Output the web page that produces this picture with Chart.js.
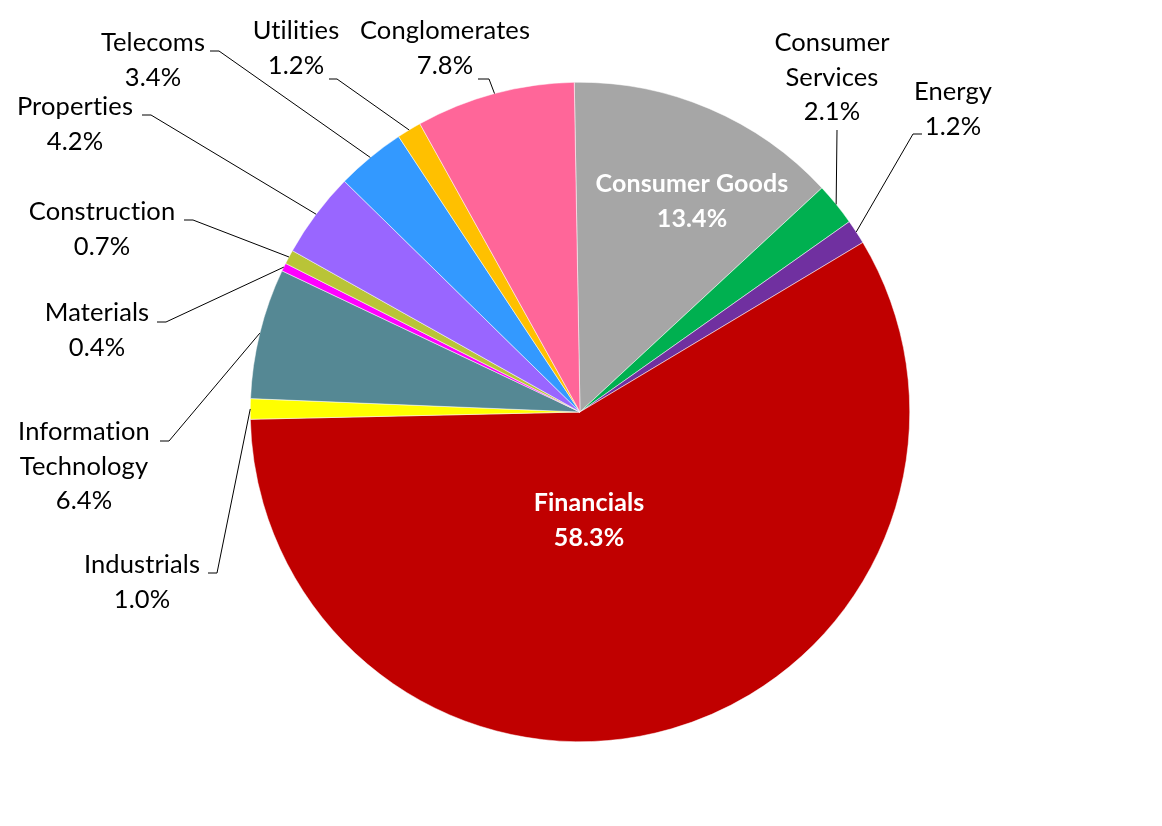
<!DOCTYPE html>
<html>
<head>
<meta charset="utf-8">
<script src="https://cdn.jsdelivr.net/npm/chart.js@4.4.1/dist/chart.umd.min.js"></script>
<style>
  html, body { margin: 0; padding: 0; background: #fff; }
  #wrap { width: 1162px; height: 826px; position: relative; }
</style>
</head>
<body>
<div id="wrap"><canvas id="pie"></canvas></div>
<script>
// 行业分布饼图（从 12 点方向顺时针）
const sectors = [
  'Consumer Goods', 'Consumer Services', 'Energy', 'Financials', 'Industrials',
  'Information Technology', 'Materials', 'Construction', 'Properties',
  'Telecoms', 'Utilities', 'Conglomerates'
];
const shares = [13.4, 2.1, 1.2, 58.3, 1.0, 6.4, 0.4, 0.7, 4.2, 3.4, 1.2, 7.8];
const sliceColors = [
  '#a6a6a6', '#00b050', '#7030a0', '#c00000', '#ffff00',
  '#558894', '#ff00ff', '#b9c437', '#9966ff',
  '#3399ff', '#ffc000', '#ff6699'
];
// 标签文字分行
const labelLines = [
  ['Consumer Goods'], ['Consumer', 'Services'], ['Energy'], ['Financials'], ['Industrials'],
  ['Information', 'Technology'], ['Materials'], ['Construction'], ['Properties'],
  ['Telecoms'], ['Utilities'], ['Conglomerates']
];

// 标签布局（像素位置）: inside = 扇区内白色粗体; 其余为外部标签 + 引导线
const labelLayout = [
  { inside: true, x: 692, y: 184 },
  { x: 832, y: 43, elbow: [837, 130] },
  { x: 953, y: 92, stub: [922, 913, 134] },
  { inside: true, x: 589, y: 503 },
  { x: 142, y: 565, stub: [208, 217, 573] },
  { x: 84, y: 432, stub: [160, 169, 441] },
  { x: 97, y: 313, stub: [157, 166, 322] },
  { x: 102, y: 212, stub: [184, 193, 220] },
  { x: 75, y: 107, stub: [142, 151, 115] },
  { x: 153, y: 43, stub: [210, 219, 51] },
  { x: 296, y: 31, stub: [329, 337, 79] },
  { x: 445, y: 31, stub: [478, 489, 79] },
];

const LINE_H = 34.5;
const FONT = 'Lato, "Open Sans", sans-serif';

const labelPlugin = {
  id: 'pieLabels',
  afterDatasetsDraw(chart) {
    const ctx = chart.ctx;
    const meta = chart.getDatasetMeta(0);
    ctx.save();
    ctx.textAlign = 'center';
    ctx.textBaseline = 'middle';
    // 非零字距可关闭 Lato 的 "ti" 连字
    if ('letterSpacing' in ctx) ctx.letterSpacing = '0.1px';
    meta.data.forEach((arc, i) => {
      const lay = labelLayout[i];
      const lines = labelLines[i].concat([shares[i].toFixed(1) + '%']);
      if (lay.inside) {
        ctx.fillStyle = '#ffffff';
        ctx.font = 'bold 25px ' + FONT;
      } else {
        ctx.fillStyle = '#000000';
        ctx.font = '25.5px ' + FONT;
      }
      lines.forEach((t, k) => ctx.fillText(t, lay.x, lay.y + k * LINE_H));
      if (lay.inside) return;

      // 引导线：扇区中点外沿 -> 标签
      const p = arc.getProps(['x', 'y', 'startAngle', 'endAngle', 'outerRadius'], true);
      const mid = (p.startAngle + p.endAngle) / 2;
      const ax = p.x + Math.cos(mid) * p.outerRadius;
      const ay = p.y + Math.sin(mid) * p.outerRadius;
      ctx.strokeStyle = '#000000';
      ctx.lineWidth = 1;
      ctx.beginPath();
      if (lay.stub) {
        ctx.moveTo(lay.stub[0], lay.stub[2]);
        ctx.lineTo(lay.stub[1], lay.stub[2]);
      } else {
        ctx.moveTo(lay.elbow[0], lay.elbow[1]);
      }
      ctx.lineTo(ax, ay);
      ctx.stroke();
    });
    ctx.restore();
  }
};

new Chart(document.getElementById('pie'), {
  type: 'pie',
  data: {
    labels: sectors,
    datasets: [{
      data: shares,
      backgroundColor: sliceColors,
      borderColor: '#ffffff',
      borderWidth: 0.5,
    }]
  },
  options: {
    responsive: true,
    maintainAspectRatio: false,
    animation: false,
    rotation: -1,
    layout: { padding: { left: 250, right: 252, top: 82, bottom: 84 } },
    plugins: {
      legend: { display: false },
      tooltip: { enabled: false },
    }
  },
  plugins: [labelPlugin]
});
</script>
</body>
</html>
